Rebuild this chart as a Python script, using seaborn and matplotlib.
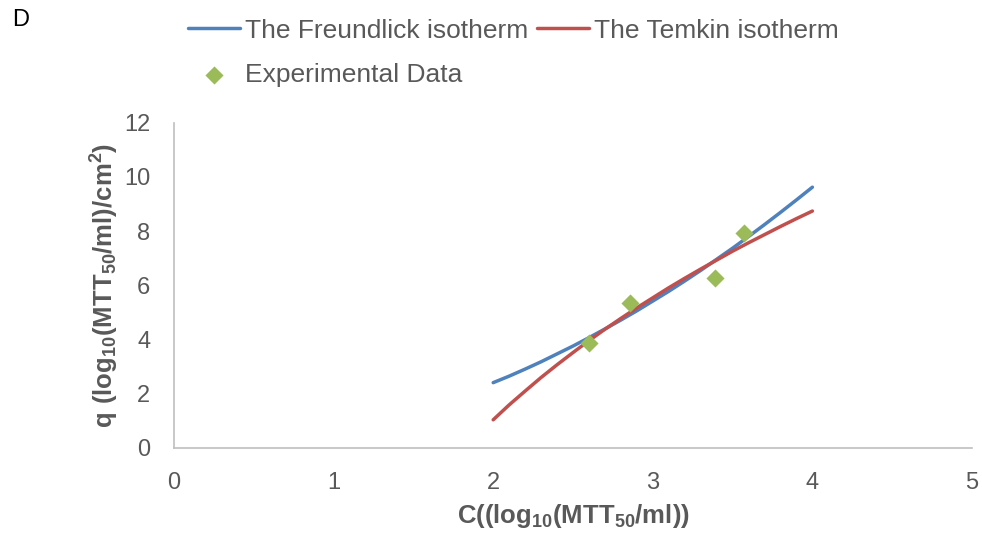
import matplotlib
matplotlib.use("Agg")
import matplotlib.pyplot as plt
import seaborn as sns
import pandas as pd

# Curve values
conc = [2.0, 2.1, 2.2, 2.3, 2.4, 2.5, 2.6, 2.7, 2.8, 2.9, 3.0,
        3.1, 3.2, 3.3, 3.4, 3.5, 3.6, 3.7, 3.8, 3.9, 4.0]
freundlich_q = [2.41, 2.65, 2.91, 3.18, 3.47, 3.76, 4.07, 4.39, 4.72, 5.06, 5.42,
                5.78, 6.16, 6.55, 6.96, 7.37, 7.80, 8.24, 8.69, 9.15, 9.62]
temkin_q = [1.04, 1.59, 2.10, 2.60, 3.07, 3.52, 3.96, 4.38, 4.78, 5.17, 5.54,
            5.91, 6.26, 6.60, 6.93, 7.26, 7.57, 7.87, 8.17, 8.46, 8.74]

# Experimental points
exp_c = [2.60, 2.86, 3.39, 3.57]
exp_q = [3.86, 5.33, 6.28, 7.92]

blue = "#4F81BD"
red = "#C0504D"
green = "#9BBB59"
grey_text = "#595959"
axis_grey = "#BFBFBF"

sns.set_style("white")
plt.rcParams["font.family"] = ["Liberation Sans", "DejaVu Sans"]
plt.rcParams["mathtext.fontset"] = "custom"
plt.rcParams["mathtext.rm"] = "Liberation Sans"
plt.rcParams["mathtext.bf"] = "Liberation Sans:bold"

curves = pd.DataFrame({"C": conc, "Freundlich": freundlich_q, "Temkin": temkin_q})
exp = pd.DataFrame({"C": exp_c, "q": exp_q})

fig = plt.figure(figsize=(9.82, 5.38), dpi=100)
ax = fig.add_axes([0.1772, 0.1673, 0.8126, 0.6047])

sns.lineplot(data=curves, x="C", y="Freundlich", color=blue, linewidth=2.5,
             ax=ax, label="The Freundlick isotherm")
sns.scatterplot(data=exp, x="C", y="q", marker="D", s=85, color=green,
                linewidth=0, ax=ax, label="Experimental Data", zorder=3)
sns.lineplot(data=curves, x="C", y="Temkin", color=red, linewidth=2.5,
             ax=ax, label="The Temkin isotherm")

ax.set_xlim(0, 5)
ax.set_ylim(0, 12)
ax.set_xticks([0, 1, 2, 3, 4, 5])
ax.set_yticks([0, 2, 4, 6, 8, 10, 12])

for side in ["top", "right"]:
    ax.spines[side].set_visible(False)
for side in ["left", "bottom"]:
    ax.spines[side].set_color(axis_grey)
    ax.spines[side].set_linewidth(1.2)

ax.tick_params(axis="both", which="major", direction="out", length=5, width=1,
               color=axis_grey, labelcolor=grey_text, labelsize=17)
ax.tick_params(axis="x", pad=12)
ax.tick_params(axis="y", pad=12)

ax.set_xlabel(r"$\mathbf{C((log_{10}(MTT_{50}/ml))}$", fontsize=18.5,
              color=grey_text, labelpad=6)
ax.set_ylabel(r"$\mathbf{q\ (log_{10}(MTT_{50}/ml)/cm^{2})}$", fontsize=18.5,
              color=grey_text, labelpad=2)

handles, labels = ax.get_legend_handles_labels()
ax.get_legend().remove()
fig.legend(handles, labels, loc="upper left", bbox_to_anchor=(0.186, 0.975),
           ncol=2, frameon=False, fontsize=19, labelcolor=grey_text,
           handlelength=1.97, handletextpad=0.19, columnspacing=0.34,
           labelspacing=0.75, borderpad=0.2, borderaxespad=0)

fig.text(0.012, 0.962, "D", fontsize=17, color="black", va="center", ha="left")

fig.savefig("out.png", dpi=100)
